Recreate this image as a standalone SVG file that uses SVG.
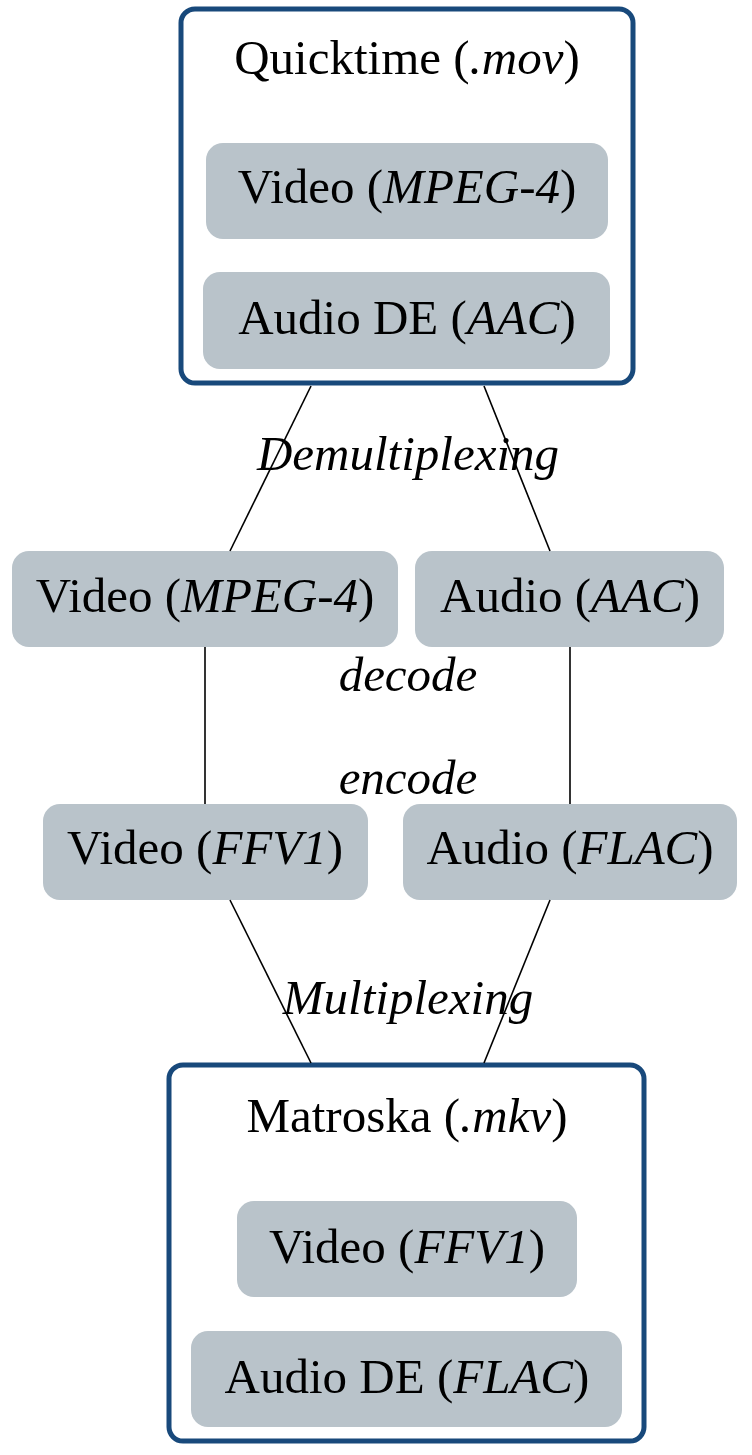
<svg xmlns="http://www.w3.org/2000/svg" width="752" height="1455" viewBox="0 0 752 1455">
<style>
.cont{fill:#ffffff;stroke:#18497b;stroke-width:5}
.box{fill:#b9c3ca;stroke:none}
.t{font-family:"Liberation Serif","DejaVu Serif",serif;font-size:49px;fill:#000;text-anchor:middle}
.i{font-style:italic}
.conn line{stroke:#000;stroke-width:1.6}
</style>
<rect width="752" height="1455" fill="#ffffff"/>
<g id="quicktime">
<rect class="cont" x="181" y="9" width="452" height="374" rx="14"/>
<text class="t" x="407" y="74">Quicktime (<tspan class="i">.mov</tspan>)</text>
</g>
<g id="qt-video">
<rect class="box" x="206" y="143" width="402" height="96" rx="17"/>
<text class="t" x="407" y="203">Video (<tspan class="i">MPEG-4</tspan>)</text>
</g>
<g id="qt-audio">
<rect class="box" x="203" y="272" width="407" height="97" rx="17"/>
<text class="t" x="407" y="334">Audio DE (<tspan class="i">AAC</tspan>)</text>
</g>
<g id="mid-video">
<rect class="box" x="12" y="551" width="386" height="96" rx="17"/>
<text class="t" x="205" y="612">Video (<tspan class="i">MPEG-4</tspan>)</text>
</g>
<g id="mid-audio">
<rect class="box" x="415" y="551" width="309" height="96" rx="17"/>
<text class="t" x="570" y="612">Audio (<tspan class="i">AAC</tspan>)</text>
</g>
<g id="enc-video">
<rect class="box" x="43" y="804" width="325" height="96" rx="17"/>
<text class="t" x="205" y="864">Video (<tspan class="i">FFV1</tspan>)</text>
</g>
<g id="enc-audio">
<rect class="box" x="403" y="804" width="334" height="96" rx="17"/>
<text class="t" x="570" y="864">Audio (<tspan class="i">FLAC</tspan>)</text>
</g>
<g id="matroska">
<rect class="cont" x="169" y="1065" width="475" height="376" rx="14"/>
<text class="t" x="407" y="1132">Matroska (<tspan class="i">.mkv</tspan>)</text>
</g>
<g id="mk-video">
<rect class="box" x="237" y="1201" width="340" height="96" rx="17"/>
<text class="t" x="407" y="1263">Video (<tspan class="i">FFV1</tspan>)</text>
</g>
<g id="mk-audio">
<rect class="box" x="191" y="1331" width="431" height="96" rx="17"/>
<text class="t" x="407" y="1393">Audio DE (<tspan class="i">FLAC</tspan>)</text>
</g>
<g id="connectors" class="conn">
<line x1="311" y1="386" x2="230" y2="551"/>
<line x1="484" y1="386" x2="550" y2="551"/>
<line x1="205" y1="647" x2="205" y2="804"/>
<line x1="570" y1="647" x2="570" y2="804"/>
<line x1="230" y1="900" x2="311" y2="1063"/>
<line x1="550" y1="900" x2="484" y2="1063"/>
</g>
<g id="labels">
<text class="t i" x="408" y="470">Demultiplexing</text>
<text class="t i" x="408" y="691">decode</text>
<text class="t i" x="408" y="794">encode</text>
<text class="t i" x="408" y="1014">Multiplexing</text>
</g>
</svg>
